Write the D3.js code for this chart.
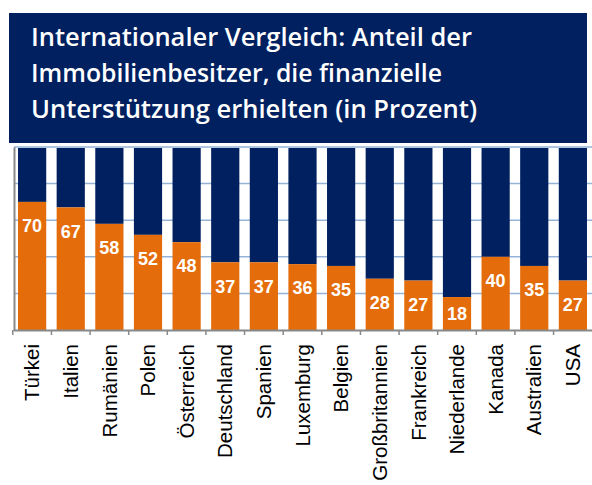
<!DOCTYPE html>
<html lang="de">
<head>
<meta charset="UTF-8">
<title>Internationaler Vergleich</title>
<script src="https://d3js.org/d3.v7.min.js"></script>
<style>
    body { margin: 0; background: #fff; }
    svg { display: block; }
</style>
</head>
<body>
<script>
    // data
    var countries = ['Türkei', 'Italien', 'Rumänien', 'Polen', 'Österreich', 'Deutschland', 'Spanien',
        'Luxemburg', 'Belgien', 'Großbritannien', 'Frankreich', 'Niederlande', 'Kanada', 'Australien', 'USA'];
    var shares = [70, 67, 58, 52, 48, 37, 37, 36, 35, 28, 27, 18, 40, 35, 27];
    var yTicks = [0, 20, 40, 60, 80, 100];
    var titleLines = ['Internationaler Vergleich: Anteil der',
        'Immobilienbesitzer, die finanzielle',
        'Unterstützung erhielten (in Prozent)'];

    const width = 592;
    const height = 485;
    const orange = '#e46c0a';
    const navy = '#002060';

    var svg = d3.select('body').append('svg')
        .attr('width', width)
        .attr('height', height);

    var x = d3.scaleBand()
        .domain(countries)
        .range([13, 592])
        .paddingInner(0.27)
        .paddingOuter(0.13);

    var y = d3.scaleLinear()
        .domain([0, 100])
        .range([330, 147]);

    // gridlines
    svg.append('g')
        .selectAll('line')
        .data(yTicks.slice(1))
        .enter()
        .append('line')
        .attr('x1', 14)
        .attr('x2', width)
        .attr('y1', d => y(d))
        .attr('y2', d => y(d))
        .attr('stroke', '#95b3d7')
        .attr('stroke-width', 1.5);

    var g = svg.selectAll('.bar')
        .data(countries)
        .enter()
        .append('g')
        .attr('class', 'bar');

    // rest up to 100
    g.append('rect')
        .attr('x', d => x(d))
        .attr('width', x.bandwidth())
        .attr('y', y(100) + 1)
        .attr('height', (d, i) => y(shares[i]) - y(100) - 1)
        .attr('fill', navy);

    g.append('rect')
        .attr('x', d => x(d))
        .attr('width', x.bandwidth())
        .attr('y', (d, i) => y(shares[i]))
        .attr('height', (d, i) => y(0) - y(shares[i]))
        .attr('fill', orange);

    g.append('text')
        .attr('x', d => x(d) + x.bandwidth() / 2)
        .attr('y', (d, i) => Math.min(y(shares[i]) + 24, (y(shares[i]) + y(0)) / 2))
        .attr('dy', '0.35em')
        .attr('text-anchor', 'middle')
        .attr('fill', '#fff')
        .style('font', 'bold 18px "Liberation Sans", Arial, sans-serif')
        .text((d, i) => shares[i]);

    // axes
    var yAxis = d3.axisLeft(y).tickValues(yTicks).tickSize(0).tickFormat('');
    svg.append('g')
        .attr('transform', 'translate(14,0)')
        .call(yAxis)
        .call(a => a.select('.domain').attr('stroke', '#888').attr('stroke-width', 2));

    var xAxis = d3.axisBottom(x).tickSize(0);
    var xg = svg.append('g')
        .attr('transform', 'translate(0,330)')
        .call(xAxis);
    xg.select('.domain').attr('stroke', '#888').attr('stroke-width', 2);
    // separators between categories
    xg.selectAll('.sep')
        .data(countries)
        .enter()
        .append('line')
        .attr('x1', d => x(d) - x.step() * x.paddingInner() / 2)
        .attr('x2', d => x(d) - x.step() * x.paddingInner() / 2)
        .attr('y1', 0)
        .attr('y2', 5)
        .attr('stroke', '#888')
        .attr('stroke-width', 1.5);
    xg.selectAll('.tick text')
        .attr('transform', 'rotate(-90)')
        .attr('x', -14)
        .attr('y', 0)
        .attr('dy', '0.35em')
        .attr('text-anchor', 'end')
        .attr('fill', '#000')
        .style('font', '20.5px "Liberation Sans", Arial, sans-serif');

    // title box
    svg.append('rect')
        .attr('x', 9)
        .attr('y', 13)
        .attr('width', 578)
        .attr('height', 130)
        .attr('fill', navy);

    var lens = [441, 411, 446];
    svg.append('g')
        .selectAll('text')
        .data(titleLines)
        .enter()
        .append('text')
        .attr('x', 31)
        .attr('y', (d, i) => 46 + i * 36)
        .attr('fill', '#fff')
        .attr('textLength', (d, i) => lens[i])
        .attr('lengthAdjust', 'spacingAndGlyphs')
        .style('font', '600 26px "Open Sans", sans-serif')
        .text(d => d);
</script>
</body>
</html>
